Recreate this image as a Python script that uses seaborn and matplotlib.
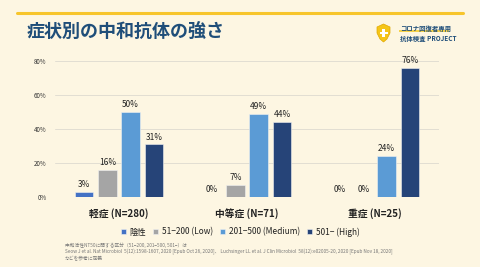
import matplotlib
matplotlib.use('Agg')
import matplotlib.pyplot as plt
from matplotlib.patches import Polygon, Rectangle
import pandas as pd
import seaborn as sns

# data
groups = ['軽症 (N=280)', '中等症 (N=71)', '重症 (N=25)']
levels = ['陰性', '51−200 (Low)', '201−500 (Medium)', '501− (High)']
values = {
    '陰性': [3, 0, 0],
    '51−200 (Low)': [16, 7, 0],
    '201−500 (Medium)': [50, 49, 24],
    '501− (High)': [31, 44, 76],
}
colors = ['#4472C4', '#A5A5A5', '#5B9BD5', '#264478']
yticks = [0, 20, 40, 60, 80]

footnote = ['中和活性NT50に関する区分（51−200, 201−500, 501−）は',
            'Seow J et al. Nat Microbiol  5(12):1598-1607, 2020 [Epub Oct 26, 2020]、 '
            'Luchsinger LL et al. J Clin Microbiol  58(12):e02005-20, 2020 [Epub Nov 18, 2020]',
            'などを参考に定義']

rows = []
for lvl in levels:
    for g, v in zip(groups, values[lvl]):
        rows.append({'group': g, 'level': lvl, 'pct': v})
df = pd.DataFrame(rows)

bg = '#FDF6E2'
sns.set_style('white')
plt.rcParams['font.family'] = ['Noto Sans CJK JP', 'DejaVu Sans']

fig = plt.figure(figsize=(4.8, 2.67), dpi=100, facecolor=bg)
ax = fig.add_axes([55 / 480, 70 / 267, 384 / 480, 136 / 267])
ax.set_facecolor(bg)

sns.barplot(data=df, x='group', y='pct', hue='level', order=groups, hue_order=levels,
            palette=colors, saturation=1, width=0.73, gap=0.2, ax=ax, legend=True, zorder=3,
            edgecolor='#F2F2F2', linewidth=0.4)

for cont, lvl in zip(ax.containers, levels):
    ax.bar_label(cont, labels=['{:d}%'.format(v) for v in values[lvl]], padding=2,
                 fontsize=6, color='#222222', clip_on=False)

ax.set_xlim(-0.5, 2.5)
ax.set_ylim(0, 80)
ax.set_yticks(yticks)
ax.set_yticklabels(['{:d}%'.format(t) for t in yticks], fontsize=4.5, color='#333333')
ax.yaxis.grid(True, color='#E2DED2', linewidth=0.7, zorder=0)
ax.set_axisbelow(True)
ax.tick_params(axis='both', length=0)
ax.tick_params(axis='y', pad=6)
ax.tick_params(axis='x', pad=8)
for lab in ax.get_xticklabels():
    lab.set_fontsize(7)
    lab.set_fontweight('bold')
    lab.set_color('#222222')
ax.set_xlabel('')
ax.set_ylabel('')
sns.despine(ax=ax, left=True, bottom=True)

handles, labels = ax.get_legend_handles_labels()
ax.legend_.remove()
leg = fig.legend(handles, labels, loc='center', bbox_to_anchor=(240 / 480, 1 - 232 / 267), ncol=4,
                 frameon=False, fontsize=6, handlelength=0.6, handleheight=0.6,
                 handletextpad=0.4, columnspacing=0.9)
for t in leg.get_texts():
    t.set_color('#222222')

# header: yellow rule and title
fig.add_artist(plt.Line2D([17 / 480, 463 / 480], [1 - 13 / 267, 1 - 13 / 267],
                          color='#F7C52B', linewidth=2.2, transform=fig.transFigure))
fig.text(27 / 480, 1 - 31 / 267, '症状別の中和抗体の強さ', fontsize=13, fontweight='bold',
         color='#1F4E79', va='center', ha='left')

# logo
sx, sy = 377, 24
shield = [(0, 3), (6.5, 0), (13, 3), (13, 9), (10, 15), (6.5, 18), (3, 15), (0, 9)]
fig.add_artist(Polygon([((sx + px) / 480, 1 - (sy + py) / 267) for px, py in shield],
                       closed=True, facecolor='#F5C518', edgecolor='#E0A800', linewidth=0.5,
                       transform=fig.transFigure))
fig.add_artist(Rectangle(((sx + 5.3) / 480, 1 - (sy + 13) / 267), 2.4 / 480, 8 / 267,
                         facecolor='white', edgecolor='none', transform=fig.transFigure))
fig.add_artist(Rectangle(((sx + 2.5) / 480, 1 - (sy + 10.2) / 267), 8 / 480, 2.4 / 267,
                         facecolor='white', edgecolor='none', transform=fig.transFigure))
fig.add_artist(Rectangle((399 / 480, 1 - 32 / 267), 50 / 480, 2 / 267,
                         facecolor='#F7D34A', edgecolor='none', transform=fig.transFigure))
fig.text(400 / 480, 1 - 28.5 / 267, 'コロナ回復者専用', fontsize=4.6, color='#1F4E79',
         va='center', ha='left', fontweight='bold')
fig.text(400 / 480, 1 - 38 / 267, '抗体検査 PROJECT', fontsize=4.6, color='#1F4E79',
         va='center', ha='left', fontweight='bold')

# footnote
for i, line in enumerate(footnote):
    fig.text(65 / 480, 1 - (245 + 7 * i) / 267, line, fontsize=3.4, color='#777777',
             va='center', ha='left')

fig.savefig('out.png', dpi=100, facecolor=bg)
